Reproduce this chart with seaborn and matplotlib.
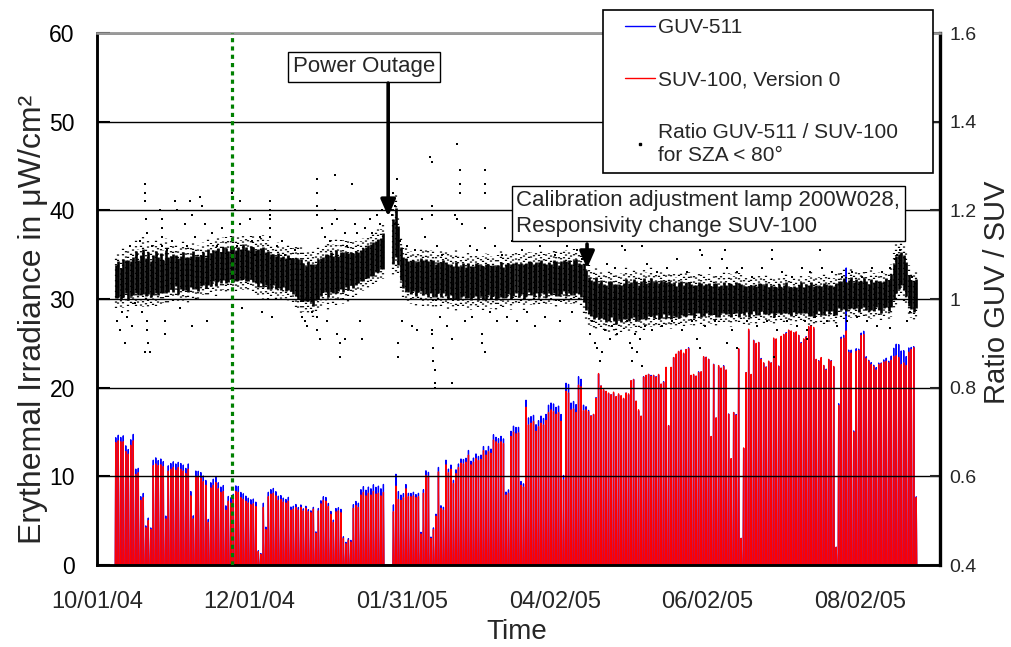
import numpy as np
import pandas as pd
import matplotlib
matplotlib.use("Agg")
import matplotlib.pyplot as plt
from matplotlib.lines import Line2D
from matplotlib.patches import Rectangle
import seaborn as sns

sns.set_style("white")
plt.rcParams["font.family"] = ["Liberation Sans", "DejaVu Sans"]

# ---------------- data ----------------
# x axis: days after 10/01/04
TICK_DAYS = [0, 61, 122, 183, 244, 305]
TICK_LABELS = ["10/01/04", "12/01/04", "01/31/05", "04/02/05", "06/02/05", "08/02/05"]
X_MAX_DAY = 337
FIRST_DAY = 7  # first day with data (10/08/04)

# daily noon peak of SUV-100 erythemal irradiance (uW/cm2), None = no data
SUV_PEAK = [
    13.8, 14.0, 13.9, 13.9, 12.8, 12.5, 13.5,   # d7-13
    14.0, 10.2, 10.4, 7.3, 7.6, 4.2, 5.0,       # d14-20
    4.0, 11.2, 11.4, 11.2, 11.3, 11.1, 5.2,     # d21-27
    10.6, 10.8, 11.0, 10.7, 11.0, 10.8, 10.6,   # d28-34
    10.3, 10.8, 7.8, 5.2, 10.0, 10.0, 9.8,      # d35-41
    9.4, 9.0, 4.8, 8.7, 9.0, 9.3, 8.6,          # d42-48
    8.2, 8.3, 6.2, 7.2, 7.0, 7.4, 8.3,          # d49-55
    8.2, 7.6, 7.4, 7.2, 7.0, 6.8, 6.9,          # d56-62
    6.6, 1.5, 1.2, 6.5, 4.0, 7.7, 8.0,          # d63-69
    8.1, 7.8, 7.3, 7.4, 7.1, 7.0, 7.2,          # d70-76
    6.2, 6.3, 6.5, 6.2, 6.5, 6.1, 6.4,          # d77-83
    6.0, 5.9, 6.3, 3.6, 6.1, 6.9, 7.3,          # d84-90
    7.2, 6.6, 5.7, 4.8, 6.0, 6.1, 5.9,          # d91-97
    3.0, 2.4, 2.8, 2.6, 6.4, 6.7, 6.5,          # d98-104
    7.9, 8.2, 7.8, 8.1, 7.9, 8.3, 8.0,          # d105-111
    8.1, 7.8, 8.2, None, None, None,            # d112-117 (power outage)
    6.0, 8.9, 7.4, 7.3, 7.6, 8.6, 7.7,          # d118-124
    7.7, 7.8, 7.6, 7.7, 3.5, 8.1, 10.1,         # d125-131
    10.0, 3.0, 4.0, 5.5, 10.5, 6.4, 6.2,        # d132-138
    11.3, 10.4, 10.8, 9.2, 10.3, 11.0, 11.5,    # d139-145
    11.4, 11.6, 12.4, 11.3, 11.6, 12.0, 11.8,   # d146-152
    11.9, 12.9, 12.4, 12.8, 12.6, 14.1, 13.9,   # d153-159
    13.7, 13.9, 13.7, 7.9, 8.1, 14.5, 15.0,     # d160-166
    14.8, 14.9, 9.0, 8.8, 17.8, 15.8, 16.0,     # d167-173
    16.2, 15.1, 15.6, 16.0, 15.8, 16.3, 17.2,   # d174-180
    17.5, 17.3, 17.0, 17.2, 16.2, 9.6, 19.6,    # d181-187
    19.4, 17.5, 17.6, 17.2, 20.3, 20.1, 17.4,   # d188-194
    17.5, 17.3, 16.8, 17.0, 18.8, 21.6, 20.2,   # d195-201
    19.8, 19.6, 19.4, 19.2, 19.5, 19.0, 19.3,   # d202-208
    19.1, 18.8, 19.4, 19.3, 20.8, 20.9, 18.5,   # d209-215
    17.5, 16.8, 21.2, 21.4, 21.5, 21.3, 21.4,   # d216-222
    21.2, 21.5, 20.4, 20.6, 22.3, 15.7, 22.3,   # d223-229
    23.4, 23.8, 24.1, 24.2, 23.9, 24.3, 24.4,   # d230-236
    21.4, 21.5, 21.3, 21.7, 21.8, 23.5, 23.4,   # d237-243
    23.2, 14.5, 22.6, 16.6, 22.5, 22.2, 22.4,   # d244-250
    22.0, 17.0, 12.0, 17.2, 16.9, 24.4, 3.0,    # d251-257
    13.2, 21.7, 26.6, 21.5, 25.3, 25.0, 25.1,   # d258-264
    23.2, 22.8, 22.3, 23.0, 22.8, 25.6, 25.5,   # d265-271
    22.4, 25.8, 26.0, 26.1, 26.5, 26.4, 26.2,   # d272-278
    26.3, 25.9, 25.0, 25.5, 25.7, 26.9, 27.0,   # d279-285
    26.8, 23.2, 23.0, 23.4, 22.5, 22.0, 23.2,   # d286-292
    23.0, 22.4, 2.0, 18.0, 25.5, 25.6, 26.4,    # d293-299
    24.0, 23.9, 15.0, 24.1, 24.2, 25.9, 26.0,   # d300-306
    23.3, 23.0, 22.6, 22.4, 22.0, 22.6, 22.7,   # d307-313
    22.9, 23.0, 22.8, 23.1, 23.5, 23.6, 23.4,   # d314-320
    22.6, 22.8, 22.5, 24.0, 24.3, 24.5, 7.6,    # d321-327
]

# daily typical GUV/SUV ratio (x1000) for SZA < 80 deg
RATIO_CENTER = [
    1040, 1045, 1035, 1048, 1050, 1042, 1046,   # d7-13
    1052, 1060, 1048, 1055, 1062, 1050, 1058,   # d14-20
    1045, 1055, 1060, 1052, 1058, 1050, 1062,   # d21-27
    1055, 1060, 1058, 1065, 1052, 1060, 1063,   # d28-34
    1058, 1055, 1062, 1066, 1060, 1057, 1064,   # d35-41
    1068, 1060, 1072, 1066, 1075, 1070, 1078,   # d42-48
    1072, 1080, 1076, 1074, 1082, 1078, 1075,   # d49-55
    1080, 1077, 1085, 1079, 1076, 1082, 1078,   # d56-62
    1074, 1070, 1076, 1072, 1068, 1065, 1062,   # d63-69
    1066, 1060, 1064, 1058, 1062, 1056, 1060,   # d70-76
    1055, 1052, 1050, 1046, 1042, 1038, 1035,   # d77-83
    1040, 1036, 1032, 1038, 1045, 1050, 1055,   # d84-90
    1058, 1052, 1060, 1055, 1062, 1058, 1064,   # d91-97
    1060, 1066, 1062, 1068, 1064, 1070, 1072,   # d98-104
    1075, 1078, 1082, 1085, 1088, 1090, 1095,   # d105-111
    1098, 1102, 1108, None, None, None,         # d112-117
    1130, 1150, 1120, 1080, 1060, 1055, 1050,   # d118-124
    1048, 1052, 1045, 1050, 1055, 1048, 1052,   # d125-131
    1045, 1050, 1046, 1042, 1048, 1044, 1050,   # d132-138
    1046, 1040, 1044, 1038, 1042, 1036, 1040,   # d139-145
    1044, 1038, 1042, 1036, 1040, 1044, 1038,   # d146-152
    1042, 1036, 1040, 1045, 1038, 1042, 1036,   # d153-159
    1040, 1044, 1038, 1042, 1046, 1040, 1044,   # d160-166
    1048, 1042, 1046, 1040, 1044, 1050, 1046,   # d167-173
    1042, 1048, 1044, 1050, 1046, 1042, 1048,   # d174-180
    1044, 1050, 1046, 1042, 1048, 1052, 1046,   # d181-187
    1050, 1044, 1048, 1052, 1046, 1042, 1036,   # d188-194
    1020, 1008, 1002, 998, 1004, 996, 1000,     # d195-201
    994, 990, 996, 1000, 992, 988, 994,         # d202-208
    990, 996, 1000, 994, 998, 1002, 996,        # d209-215
    992, 998, 1002, 996, 1000, 1004, 998,       # d216-222
    1002, 996, 1000, 1004, 998, 1002, 996,      # d223-229
    1000, 994, 998, 1002, 996, 1000, 1004,      # d230-236
    998, 994, 1000, 1004, 998, 996, 1002,       # d237-243
    1000, 996, 1002, 998, 994, 1000, 1004,      # d244-250
    998, 1002, 996, 1000, 1004, 998, 1002,      # d251-257
    996, 1000, 994, 998, 1002, 996, 1000,       # d258-264
    1004, 998, 1002, 996, 1000, 994, 998,       # d265-271
    1002, 996, 1000, 1004, 998, 994, 1000,      # d272-278
    996, 1000, 1004, 998, 1002, 996, 1000,      # d279-285
    994, 998, 1002, 996, 1000, 1004, 998,       # d286-292
    1002, 996, 1000, 1010, 1008, 1012, 1006,    # d293-299
    1010, 1014, 1008, 1012, 1006, 1010, 1014,   # d300-306
    1008, 1004, 1010, 1006, 1012, 1008, 1004,   # d307-313
    1010, 1014, 1008, 1020, 1040, 1055, 1062,   # d314-320
    1068, 1060, 1045, 1020, 1010, 1005, 1012,   # d321-327
]

# daily half-spread of the dense ratio cloud (x1000)
RATIO_HALF = [
    30, 32, 28, 34, 30, 36, 32,   # d7-13
    34, 38, 32, 36, 40, 34, 38,   # d14-20
    32, 36, 38, 34, 36, 30, 38,   # d21-27
    32, 30, 34, 28, 32, 30, 34,   # d28-34
    30, 32, 28, 34, 30, 32, 28,   # d35-41
    30, 28, 32, 30, 28, 32, 30,   # d42-48
    28, 30, 32, 28, 30, 32, 28,   # d49-55
    30, 28, 32, 30, 28, 30, 32,   # d56-62
    30, 34, 32, 36, 30, 34, 32,   # d63-69
    28, 30, 32, 30, 28, 30, 32,   # d70-76
    30, 32, 34, 36, 38, 34, 32,   # d77-83
    36, 34, 38, 32, 36, 34, 32,   # d84-90
    34, 38, 36, 34, 38, 32, 34,   # d91-97
    36, 32, 34, 30, 32, 30, 28,   # d98-104
    28, 30, 28, 30, 28, 30, 28,   # d105-111
    30, 28, 32, None, None, None, # d112-117
    40, 45, 35, 30, 28, 30, 28,   # d118-124
    30, 28, 30, 28, 30, 32, 30,   # d125-131
    32, 30, 34, 30, 28, 32, 30,   # d132-138
    30, 32, 28, 30, 34, 30, 28,   # d139-145
    30, 28, 32, 30, 28, 30, 32,   # d146-152
    28, 30, 32, 28, 30, 28, 30,   # d153-159
    30, 32, 28, 30, 28, 32, 30,   # d160-166
    28, 30, 28, 32, 30, 28, 30,   # d167-173
    30, 28, 32, 30, 28, 30, 28,   # d174-180
    28, 30, 32, 28, 30, 28, 32,   # d181-187
    30, 28, 32, 30, 28, 30, 34,   # d188-194
    36, 34, 32, 34, 36, 32, 34,   # d195-201
    32, 34, 36, 32, 34, 36, 32,   # d202-208
    34, 32, 36, 34, 32, 34, 36,   # d209-215
    32, 34, 36, 32, 30, 34, 32,   # d216-222
    30, 32, 34, 30, 32, 30, 32,   # d223-229
    30, 28, 32, 30, 28, 30, 28,   # d230-236
    28, 30, 26, 28, 30, 28, 26,   # d237-243
    28, 26, 28, 30, 28, 26, 28,   # d244-250
    26, 28, 30, 26, 28, 30, 26,   # d251-257
    26, 24, 28, 26, 24, 26, 28,   # d258-264
    24, 26, 28, 24, 26, 28, 24,   # d265-271
    26, 24, 26, 28, 24, 26, 24,   # d272-278
    24, 26, 28, 24, 26, 28, 30,   # d279-285
    28, 26, 24, 26, 28, 24, 26,   # d286-292
    24, 26, 28, 24, 26, 28, 26,   # d293-299
    26, 28, 24, 26, 28, 24, 26,   # d300-306
    26, 24, 28, 26, 24, 26, 28,   # d307-313
    24, 26, 28, 30, 32, 34, 32,   # d314-320
    30, 32, 30, 28, 26, 28, 26,   # d321-327
]

# isolated ratio points outside the dense cloud: (day, ratio)
OUTLIER_POINTS = [
    (8, 0.95), (9, 0.93), (10, 0.97), (11, 0.90), (12, 0.96), (13, 1.12), (14, 0.94),
    (15, 0.99), (16, 1.10), (17, 1.13), (18, 0.97), (19, 1.26), (19, 1.24), (19, 1.22),
    (19.5, 1.18), (20, 1.15), (20, 0.95), (20, 0.93), (20.5, 0.90), (19, 0.88), (21, 0.88),
    (22, 1.12), (24, 1.10), (25, 1.20), (26, 1.18), (26, 1.16), (26, 1.14), (26, 1.12),
    (27, 0.95), (27, 0.92), (28, 1.11), (30, 1.13), (31, 1.22), (32, 1.20), (33, 0.98),
    (35, 1.17), (36, 1.12), (37, 1.22), (38, 1.19), (38, 0.94), (39, 1.14), (41, 1.23),
    (42, 1.21), (43, 1.17), (44, 0.95), (46, 1.15), (48, 1.12), (50, 1.16), (52, 1.10),
    (54, 1.24), (54, 1.19), (54, 0.93), (55, 1.20), (56, 1.12), (57, 1.22), (57, 1.17),
    (58, 0.98), (61, 1.18), (62, 1.13), (63, 1.10), (65, 1.14), (66, 0.97), (69, 1.22),
    (69, 1.20), (69, 1.19), (69, 1.18), (69, 1.16), (69, 1.14), (70, 0.96), (72, 1.12),
    (74, 1.13), (75, 1.10), (77, 1.09), (79, 1.11), (82, 0.96), (83, 0.95), (84, 0.94),
    (86, 0.97), (88, 1.27), (88, 1.24), (88, 1.21), (88, 1.19), (88, 0.96), (88, 0.93),
    (89, 0.91), (90, 1.16), (91, 1.14), (92, 0.95), (93, 1.13), (94, 1.17), (95, 1.28),
    (95, 1.20), (96, 1.18), (96, 0.92), (97, 0.90), (97, 0.87), (99, 0.91), (99, 1.15),
    (100, 1.12), (102, 1.26), (103, 1.17), (104, 1.15), (105, 0.95), (106, 0.91),
    (107, 1.16), (109, 1.18), (110, 1.15), (112, 1.19), (113, 1.17), (114, 1.20),
    (116.5, 1.25), (117, 1.22), (117.5, 1.20), (118, 1.19), (118.5, 1.24), (119, 1.21),
    (119, 1.17), (120, 1.27), (120.4, 0.90), (120.4, 0.87), (121, 1.13), (122, 0.95),
    (124, 1.12), (126, 0.94), (127, 1.11), (128, 0.93), (130, 1.18), (131, 1.14),
    (133, 1.32), (134, 1.31), (134, 1.21), (134, 1.19), (134, 0.93), (134, 0.92),
    (134.5, 0.89), (134.5, 0.86), (135, 0.84), (135, 0.81), (135, 0.80), (136, 1.12),
    (137, 0.96), (138, 1.10), (140, 0.94), (142, 0.91), (142, 0.81), (143, 1.19),
    (144, 1.35), (144, 1.18), (145, 1.29), (145, 1.26), (145, 1.24), (146, 1.17),
    (147, 0.95), (149, 1.12), (150, 0.96), (152, 1.11), (154, 0.92), (154, 0.90),
    (155, 0.88), (155, 1.29), (155, 1.26), (155, 1.24), (155, 1.16), (157, 0.97),
    (159, 1.12), (160, 0.95), (162, 1.10), (164, 0.96), (166, 1.13), (168, 0.95),
    (170, 1.11), (172, 0.97), (174, 1.14), (175, 0.94), (177, 1.12), (179, 0.96),
    (181, 1.13), (183, 1.10), (185, 0.95), (186, 1.15), (188, 1.12), (190, 0.97),
    (192, 1.11), (194, 1.09), (197, 0.92), (198, 0.95), (199, 0.90), (200, 0.89),
    (201, 0.86), (202, 0.88), (203, 0.93), (204, 1.08), (205, 0.91), (206, 0.94),
    (207, 1.07), (208, 0.92), (210, 1.12), (211, 1.11), (212, 0.95), (213, 0.90),
    (214, 0.86), (214, 0.89), (215, 0.92), (216, 0.88), (217, 0.91), (218, 0.85),
    (218, 1.12), (219, 0.94), (220, 1.08), (222, 0.93), (224, 1.06), (226, 0.94),
    (228, 1.07), (230, 0.95), (232, 1.09), (234, 0.93), (236, 1.06), (238, 0.95),
    (240, 0.91), (241, 1.11), (241, 0.89), (242, 1.10), (243, 0.94), (245, 1.07),
    (247, 0.95), (250, 1.09), (251, 1.11), (252, 0.90), (252, 1.07), (254, 0.93),
    (256, 0.89), (256, 1.06), (258, 1.07), (260, 0.95), (262, 1.05), (264, 0.94),
    (266, 1.07), (268, 0.95), (270, 1.11), (270, 1.09), (270.5, 0.87), (272, 0.93),
    (274, 1.06), (276, 0.95), (278, 1.05), (280, 0.94), (282, 1.07), (283, 0.95),
    (284, 0.91), (284, 0.93), (285, 1.06), (287, 0.96), (289, 1.11), (290, 1.07),
    (292, 0.95), (294, 1.06), (296, 0.94), (298, 1.05), (300, 0.95), (302, 1.06),
    (304, 0.96), (306, 1.05), (308, 0.95), (310, 1.07), (312, 0.94), (314, 1.06),
    (317, 1.07), (317, 0.935), (319, 1.09), (320, 1.10), (321, 1.11), (323, 1.13),
    (323, 1.09), (324, 0.95), (325, 0.97), (326, 1.05),
]

# single GUV-511 reading that sticks out above the SUV-100 curve: (day, value)
GUV_SPIKES = [(299, 33.5)]

EVENT_LINE_DAY = 54          # green dotted marker line
POWER_OUTAGE_DAY = 116.4
CALIBRATION_DAY = 195.9

# drawing style for the ratio cloud
CORE_SCALE = 1.25   # dense core drawn over +-CORE_SCALE*half
HALO_SCALE = 2.0    # sparse dotted halo out to +-HALO_SCALE*half

# ---------------- prepare ----------------
n = min(len(SUV_PEAK), len(RATIO_CENTER), len(RATIO_HALF))
days = FIRST_DAY + np.arange(n)
suv = np.array([np.nan if v is None else v for v in SUV_PEAK[:n]], float)
rc = np.array([np.nan if v is None else v for v in RATIO_CENTER[:n]], float) / 1000.0
rh = np.array([np.nan if v is None else v for v in RATIO_HALF[:n]], float) / 1000.0
guv = suv * np.where(np.isnan(rc), 1.0, rc)
for d, v in GUV_SPIKES:
    guv[days == d] = v


def spike_frame(peaks):
    xs, ys = [], []
    for d, p in zip(days, peaks):
        if np.isnan(p):
            continue
        xs += [d + 0.3, d + 0.5, d + 0.7]
        ys += [0.0, p, 0.0]
    return pd.DataFrame({"day": xs, "irr": ys})


guv_df = spike_frame(guv)
suv_df = spike_frame(suv)
ok = ~np.isnan(rc)
out_df = pd.DataFrame(OUTLIER_POINTS, columns=["day", "ratio"])

# ---------------- figure ----------------
W, H = 1011, 647
fig = plt.figure(figsize=(W / 100, H / 100), dpi=100)
L0, R0, T0, B0 = 97, 940, 33, 565
ax1 = fig.add_axes([L0 / W, 1 - B0 / H, (R0 - L0) / W, (B0 - T0) / H])
ax2 = ax1.twinx()

sns.lineplot(data=guv_df, x="day", y="irr", ax=ax1, color="#0000FF", lw=0.95,
             estimator=None, sort=False, legend=False)
sns.lineplot(data=suv_df, x="day", y="irr", ax=ax1, color="#FF0000", lw=0.95,
             estimator=None, sort=False, legend=False)

ax1.set_xlim(0, X_MAX_DAY)
ax1.set_ylim(0, 60)
ax1.set_yticks(range(0, 61, 10))
ax1.set_xticks(TICK_DAYS)
ax1.set_xticklabels(TICK_LABELS)
ax1.yaxis.grid(True, color="black", lw=1.0)
ax1.xaxis.grid(False)
ax1.set_axisbelow(False)

# ratio cloud: sparse dotted halo, dense core, isolated points
dx = days[ok] + 0.5
c, h = rc[ok], rh[ok]
halo_styles = [((k * 0.9) % 2.4, (0.55, 1.85)) for k in range(len(dx))]
ax2.vlines(dx, c - HALO_SCALE * h, c + HALO_SCALE * h, colors="black", lw=1.6,
           linestyles=halo_styles, zorder=3)
ax2.vlines(dx, c - CORE_SCALE * h, c + CORE_SCALE * h, colors="black", lw=1.9, zorder=3)
sns.scatterplot(data=out_df, x="day", y="ratio", ax=ax2, color="black", marker="s",
                s=4, linewidth=0, zorder=4, legend=False)
ax2.set_ylim(0.4, 1.6)
ax2.set_yticks([0.4, 0.6, 0.8, 1.0, 1.2, 1.4, 1.6])
ax2.set_yticklabels(["0.4", "0.6", "0.8", "1", "1.2", "1.4", "1.6"])
ax2.set_xlim(0, X_MAX_DAY)

ax2.axvline(EVENT_LINE_DAY, color="#008000", lw=2.3, linestyle=(0, (1.3, 1.3)), zorder=6)

# ticks / labels
ax1.tick_params(axis="y", direction="in", length=9, width=1.5, labelsize=16.5, pad=16,
                colors="black")
ax1.tick_params(axis="x", length=0, labelsize=17, pad=19)
ax2.tick_params(axis="y", direction="in", length=7, width=1.5, labelsize=14, pad=7)

ax1.set_xlabel("Time", fontsize=20)
ax1.xaxis.set_label_coords((517 - L0) / (R0 - L0), (B0 - 619) / (B0 - T0))
ax1.set_ylabel("Erythemal Irradiance in μW/cm²", fontsize=23)
ax1.yaxis.set_label_coords((48 - L0) / (R0 - L0), (B0 - 319) / (B0 - T0))
ax2.set_ylabel("Ratio GUV / SUV", fontsize=21)
ax2.yaxis.set_label_coords((983 - L0) / (R0 - L0), (B0 - 292) / (B0 - T0))

for ax in (ax1, ax2):
    for s in ("left", "bottom", "right"):
        ax.spines[s].set_color("black")
        ax.spines[s].set_linewidth(1.8)
    ax.spines["top"].set_color("#9a9a9a")
    ax.spines["top"].set_linewidth(1.8)
ax2.spines["right"].set_linewidth(2.4)

# annotations
box = dict(boxstyle="square,pad=0.2", fc="white", ec="black", lw=1.0)
arrow = dict(arrowstyle="-|>,head_length=0.5,head_width=0.22", lw=2.6, color="black",
             shrinkA=0, shrinkB=0, mutation_scale=20)
ax2.text(78.3, 1.524, "Power Outage", fontsize=16, ha="left", va="center", bbox=box,
         zorder=7)
ax2.annotate("", xy=(POWER_OUTAGE_DAY, 1.186), xytext=(POWER_OUTAGE_DAY, 1.487),
             arrowprops=arrow, zorder=7)
ax2.text(167.6, 1.193, "Calibration adjustment lamp 200W028,\nResponsivity change SUV-100",
         fontsize=16, ha="left", va="center", linespacing=1.3, bbox=box, zorder=7)
ax2.annotate("", xy=(CALIBRATION_DAY, 1.069), xytext=(CALIBRATION_DAY, 1.124),
             arrowprops=arrow, zorder=7)

# legend with its own frame
ax2.add_patch(Rectangle((603 / W, 1 - 173 / H), 330 / W, 163 / H, transform=fig.transFigure,
                        fc="white", ec="black", lw=1.2, clip_on=False, zorder=8))
handles = [Line2D([], [], color="#0000FF", lw=1.0),
           Line2D([], [], color="#FF0000", lw=1.0),
           Line2D([], [], color="black", marker="s", ms=1.8, ls="none")]
labels = ["GUV-511", "SUV-100, Version 0", "Ratio GUV-511 / SUV-100\nfor SZA < 80°"]
leg = ax2.legend(handles, labels, loc="upper left", bbox_to_anchor=(625 / W, 1 - 18 / H),
                 bbox_transform=fig.transFigure, frameon=False, fontsize=15,
                 borderpad=0, borderaxespad=0, handlelength=1.45, handletextpad=0.12,
                 labelspacing=1.6)
leg.get_texts()[2].set_linespacing(1.3)
leg.set_zorder(9)

fig.savefig("out.png", dpi=100)
